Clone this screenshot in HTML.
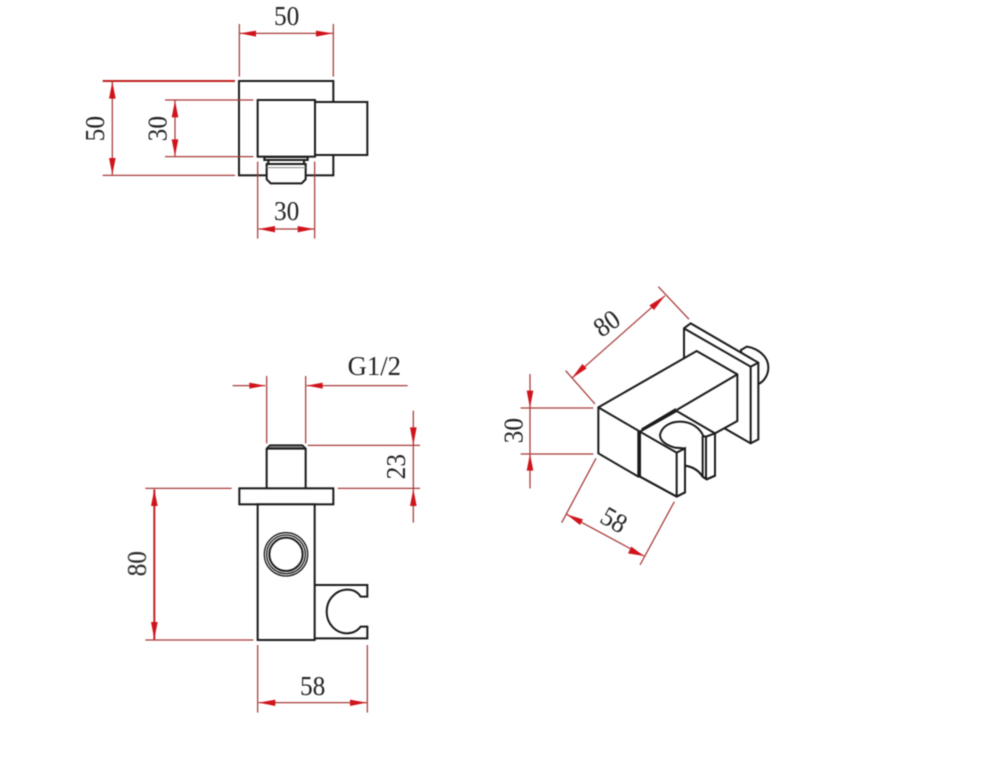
<!DOCTYPE html>
<html><head><meta charset="utf-8"><style>
html,body{margin:0;padding:0;background:#fff;width:1000px;height:758px;overflow:hidden}
svg{display:block}
text{font-family:"Liberation Serif",serif;font-size:82px;fill:#222;text-anchor:middle}
.k{fill:none;stroke:#1a1a1a;stroke-width:6;stroke-linejoin:miter}
.t{fill:none;stroke:#1a1a1a;stroke-width:4}
.w{fill:#fff;stroke:#1a1a1a;stroke-width:6}
.d{fill:none;stroke:#a83a3a;stroke-width:3.8}
.r{fill:none;stroke:#c02020;stroke-width:6}
.a{fill:#cf141c;stroke:none}
</style></head><body>
<svg width="1000" height="758" viewBox="0 0 1000 758" xmlns="http://www.w3.org/2000/svg">
<g style="filter:blur(.45px)">
<!-- top view -->
<g transform="translate(80,0) scale(.33333)">
<rect class="k" x="477" y="243" width="283" height="283"/>
<rect class="w" x="705" y="306" width="157" height="159"/>
<rect class="w" x="533" y="300" width="172" height="170"/>
<path class="w" d="M553 471H683V480H553Z"/>
<path class="w" d="M565 480H672V492H565Z"/>
<path class="w" d="M560 492H677V538L665 550H572L560 538Z"/>
<path d="M560 503H677" stroke="#888" stroke-width="3" fill="none"/>
<path class="d" d="M478 72V230M760 72V230M480 100H758M68 526H465M97 245V524M255 300H520M255 470H520M285 302V468M533 485V716M704 485V716M536 687H702"/>
<path class="r" d="M68 243H465"/>
<path class="a" d="M480 100L528 92V110ZM758 100L708 92V110ZM97 245L87 296H107ZM97 524L87 474H107ZM285 302L275 352H295ZM285 468L275 418H295ZM536 687L585 678V697ZM702 687L653 678V697Z"/>
<text x="620" y="75" textLength="76" lengthAdjust="spacingAndGlyphs">50</text>
<text x="620" y="660" textLength="76" lengthAdjust="spacingAndGlyphs">30</text>
<text transform="translate(72,386) rotate(-90)" textLength="76" lengthAdjust="spacingAndGlyphs">50</text>
<text transform="translate(259,386) rotate(-90)" textLength="76" lengthAdjust="spacingAndGlyphs">30</text>
</g>
<!-- side view -->
<g transform="translate(120,350) scale(.33333)">
<path class="k" d="M440 415V296L450 286H547L557 296V415"/>
<path d="M442 295L451 288H546L555 295Z" fill="#888"/>
<path class="k" d="M440 296H557"/>
<rect class="w" x="358" y="415" width="282" height="48"/>
<rect class="w" x="413" y="463" width="171" height="407"/>
<circle class="t" cx="498" cy="613" r="65"/>
<circle class="t" cx="498" cy="613" r="58"/>
<circle class="k" cx="498" cy="613" r="50"/>
<path class="k" d="M584 705H742V740H722C712 724 695 718 678 719C645 722 620 750 620 785C620 822 648 850 680 850C698 850 712 843 722 830H742V865H584"/>
<path class="d" d="M338 107H436M560 107H863M440 78V280M557 78V280M563 286H900M653 415H900M880 182V518M76 415H335M76 870H400M413 885V1088M742 885V1088M416 1058H740"/>
<path class="r" d="M103 418V868"/>
<path class="a" d="M436 107L388 98V116ZM560 107L608 98V116ZM880 285L870 232H890ZM880 417L870 468H890ZM103 418L93 468H113ZM103 868L93 816H113ZM416 1058L466 1049V1068ZM740 1058L690 1049V1068Z"/>
<text x="763" y="75" textLength="160" lengthAdjust="spacingAndGlyphs">G1/2</text>
<text x="578" y="1035" textLength="76" lengthAdjust="spacingAndGlyphs">58</text>
<text transform="translate(855,350) rotate(-90)" textLength="76" lengthAdjust="spacingAndGlyphs">23</text>
<text transform="translate(77,641) rotate(-90)" textLength="76" lengthAdjust="spacingAndGlyphs">80</text>
</g>
<!-- iso dims -->
<g transform="translate(490,280) scale(.33333)">
<path class="d" d="M227 272L315 372M505 20L597 118M245 295L525 47M92 384H310M92 522H310M120 282V625M318 535L215 728M553 665L450 855M230 703L462 828"/>
<path class="a" d="M245 295L290 265L277 252ZM525 47L478 76L492 90ZM120 384L110 332H130ZM120 522L110 572H130ZM230 703L270 735L279 718ZM462 828L414 820L424 800Z"/>
<text transform="translate(350,130) rotate(-35)" y="27" textLength="76" lengthAdjust="spacingAndGlyphs">80</text>
<text transform="translate(98,452) rotate(-90)" textLength="76" lengthAdjust="spacingAndGlyphs">30</text>
<text transform="translate(372,720) rotate(30)" y="27" textLength="76" lengthAdjust="spacingAndGlyphs">58</text>
</g>
<!-- iso object -->
<g transform="translate(630,310) scale(.33333)">
<path class="w" d="M333 120L350 110C385 115 415 140 415 172C415 195 402 215 385 222L340 200Z"/>
<path class="w" d="M162 55L182 40L385 158V388L362 400L162 285Z"/>
<path class="k" d="M162 55L362 170V400M362 170L385 158"/>
<path class="w" d="M-95 292L200 123L322 193V333L255 370V497L230 508L218 500C205 480 185 470 165 467V547L140 560L30 500H25L-95 430Z"/>
<path class="k" d="M-95 292L25 362V502M322 193L140 300"/>
<path class="k" d="M30 365L140 303L255 370M35 358L138 297"/>
<path class="k" d="M30 365V500L140 560L165 547V415L140 428ZM140 428V560"/>
<path class="k" d="M162 415L135 413C105 405 90 390 90 375C95 350 120 335 150 335C185 335 210 355 220 378"/>
<path class="k" d="M218 378V500L230 508L255 497V370L228 380L218 378M228 380V508"/>
<path class="k" d="M165 467C185 470 205 480 218 500"/>
</g>
</g>
</svg>
</body></html>
